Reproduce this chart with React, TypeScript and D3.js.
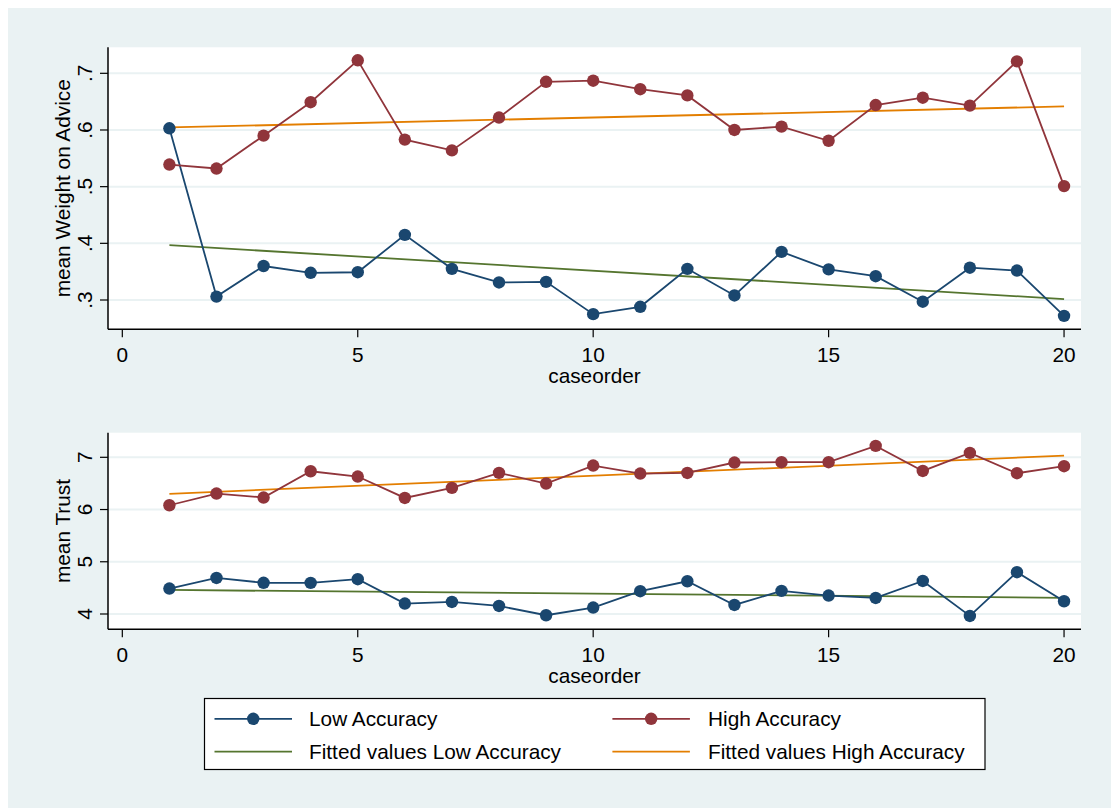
import React from "react";
import * as d3 from "d3";

// Case order (x) and the per-case means for each accuracy group
const caseorder = [1, 2, 3, 4, 5, 6, 7, 8, 9, 10, 11, 12, 13, 14, 15, 16, 17, 18, 19, 20];

const woaLow = [0.603, 0.306, 0.36, 0.348, 0.349, 0.415, 0.355, 0.331, 0.332, 0.275, 0.288, 0.355, 0.308, 0.385, 0.354, 0.342, 0.297, 0.357, 0.352, 0.272];
const woaHigh = [0.539, 0.532, 0.59, 0.649, 0.723, 0.583, 0.564, 0.622, 0.685, 0.687, 0.672, 0.661, 0.6, 0.606, 0.581, 0.644, 0.657, 0.643, 0.721, 0.501];

const trustLow = [4.487, 4.69, 4.598, 4.595, 4.666, 4.2, 4.231, 4.154, 3.976, 4.124, 4.436, 4.627, 4.173, 4.442, 4.353, 4.307, 4.633, 3.963, 4.8, 4.244];
const trustHigh = [6.082, 6.306, 6.23, 6.733, 6.632, 6.222, 6.414, 6.701, 6.498, 6.842, 6.689, 6.7, 6.9, 6.906, 6.906, 7.218, 6.739, 7.084, 6.695, 6.829];

const xTicks = [0, 5, 10, 15, 20];
const woaTicks = [0.3, 0.4, 0.5, 0.6, 0.7];
const woaTickLabels = [".3", ".4", ".5", ".6", ".7"];
const trustTicks = [4, 5, 6, 7];
const trustTickLabels = ["4", "5", "6", "7"];

const legendLabels = [
  "Low Accuracy",
  "High Accuracy",
  "Fitted values Low Accuracy",
  "Fitted values High Accuracy",
];

const NAVY = "#1a476f";
const MAROON = "#90353b";
const GREEN = "#55752f";
const ORANGE = "#e37e00";
const BG = "#eaf2f3";
const FONT = "'Liberation Sans', Arial, sans-serif";
const FS = 20.8;

// Ordinary least squares line through (xs, ys), evaluated at the x extremes
function fitLine(xs: number[], ys: number[]): [number, number][] {
  const mx = d3.mean(xs) as number;
  const my = d3.mean(ys) as number;
  let sxy = 0;
  let sxx = 0;
  xs.forEach((x, i) => {
    sxy += (x - mx) * (ys[i] - my);
    sxx += (x - mx) * (x - mx);
  });
  const b = sxy / sxx;
  const a = my - b * mx;
  const x0 = d3.min(xs) as number;
  const x1 = d3.max(xs) as number;
  return [
    [x0, a + b * x0],
    [x1, a + b * x1],
  ];
}

const LEFT = 108;
const RIGHT = 1081;
const x = d3.scaleLinear().domain([-0.304, 20.36]).range([LEFT, RIGHT]);

type PanelProps = {
  top: number;
  bottom: number;
  yDomain: [number, number];
  ticks: number[];
  tickLabels: string[];
  yTitle: string;
  low: number[];
  high: number[];
};

function Panel({ top, bottom, yDomain, ticks, tickLabels, yTitle, low, high }: PanelProps) {
  const y = d3.scaleLinear().domain(yDomain).range([bottom, top]);
  const line = d3
    .line<[number, number]>()
    .x((d) => x(d[0]))
    .y((d) => y(d[1]));
  const pts = (vals: number[]) => caseorder.map((c, i) => [c, vals[i]] as [number, number]);
  const lowPts = pts(low);
  const highPts = pts(high);
  const fitLow = fitLine(caseorder, low);
  const fitHigh = fitLine(caseorder, high);
  const midY = (top + bottom) / 2;

  return (
    <g>
      <rect x={LEFT} y={top} width={RIGHT - LEFT} height={bottom - top} fill="#ffffff" />
      {ticks.map((t) => (
        <line key={"g" + t} x1={LEFT} x2={RIGHT} y1={y(t)} y2={y(t)} stroke={BG} strokeWidth={2} />
      ))}
      {/* fitted lines */}
      <path d={line(fitLow) || ""} fill="none" stroke={GREEN} strokeWidth={1.8} />
      <path d={line(fitHigh) || ""} fill="none" stroke={ORANGE} strokeWidth={1.8} />
      {/* connected means */}
      <path d={line(lowPts) || ""} fill="none" stroke={NAVY} strokeWidth={1.8} />
      {lowPts.map((p, i) => (
        <circle key={"l" + i} cx={x(p[0])} cy={y(p[1])} r={6.2} fill={NAVY} />
      ))}
      <path d={line(highPts) || ""} fill="none" stroke={MAROON} strokeWidth={1.8} />
      {highPts.map((p, i) => (
        <circle key={"h" + i} cx={x(p[0])} cy={y(p[1])} r={6.2} fill={MAROON} />
      ))}
      {/* axes */}
      <line x1={LEFT} x2={LEFT} y1={top} y2={bottom} stroke="#000" strokeWidth={1.5} />
      <line x1={LEFT} x2={RIGHT} y1={bottom} y2={bottom} stroke="#000" strokeWidth={1.5} />
      {ticks.map((t, i) => (
        <g key={"yt" + t}>
          <line x1={LEFT - 8} x2={LEFT} y1={y(t)} y2={y(t)} stroke="#000" strokeWidth={1.2} />
          <text
            transform={`translate(91.7,${y(t)}) rotate(-90)`}
            textAnchor="middle"
            fontFamily={FONT}
            fontSize={FS}
            fill="#000"
          >
            {tickLabels[i]}
          </text>
        </g>
      ))}
      <text
        transform={`translate(69.5,${midY}) rotate(-90)`}
        textAnchor="middle"
        fontFamily={FONT}
        fontSize={FS}
        fill="#000"
      >
        {yTitle}
      </text>
      {xTicks.map((t) => (
        <g key={"xt" + t}>
          <line x1={x(t)} x2={x(t)} y1={bottom} y2={bottom + 8} stroke="#000" strokeWidth={1.2} />
          <text x={x(t)} y={bottom + 32.4} textAnchor="middle" fontFamily={FONT} fontSize={FS} fill="#000">
            {t}
          </text>
        </g>
      ))}
      <text
        x={(LEFT + RIGHT) / 2}
        y={bottom + 53.4}
        textAnchor="middle"
        fontFamily={FONT}
        fontSize={FS}
        fill="#000"
      >
        caseorder
      </text>
    </g>
  );
}

function Legend() {
  const rows = [718.8, 751.7];
  const cols = [214.5, 612.4];
  const keyLen = 77.5;
  const textX = [309, 708];
  const items = [
    { color: NAVY, marker: true, col: 0, row: 0 },
    { color: MAROON, marker: true, col: 1, row: 0 },
    { color: GREEN, marker: false, col: 0, row: 1 },
    { color: ORANGE, marker: false, col: 1, row: 1 },
  ];
  return (
    <g>
      <rect x={204.5} y={698.5} width={780.5} height={71} fill="#fff" stroke="#000" strokeWidth={1.2} />
      {items.map((it, i) => (
        <g key={i}>
          <line
            x1={cols[it.col]}
            x2={cols[it.col] + keyLen}
            y1={rows[it.row]}
            y2={rows[it.row]}
            stroke={it.color}
            strokeWidth={1.8}
          />
          {it.marker && <circle cx={cols[it.col] + keyLen / 2} cy={rows[it.row]} r={6.2} fill={it.color} />}
          <text
            x={textX[it.col]}
            y={rows[it.row] + 7.3}
            fontFamily={FONT}
            fontSize={FS}
            fill="#000"
          >
            {legendLabels[i]}
          </text>
        </g>
      ))}
    </g>
  );
}

export default function App() {
  return (
    <svg
      width={1111}
      height={808}
      style={{ position: "absolute", left: 0, top: 0, display: "block" }}
    >
      <rect x={8} y={8} width={1103} height={800} fill={BG} />
      <Panel
        top={47.3}
        bottom={329.3}
        yDomain={[0.2483, 0.7459]}
        ticks={woaTicks}
        tickLabels={woaTickLabels}
        yTitle="mean Weight on Advice"
        low={woaLow}
        high={woaHigh}
      />
      <Panel
        top={432.7}
        bottom={629.3}
        yDomain={[3.707, 7.471]}
        ticks={trustTicks}
        tickLabels={trustTickLabels}
        yTitle="mean Trust"
        low={trustLow}
        high={trustHigh}
      />
      <Legend />
    </svg>
  );
}
